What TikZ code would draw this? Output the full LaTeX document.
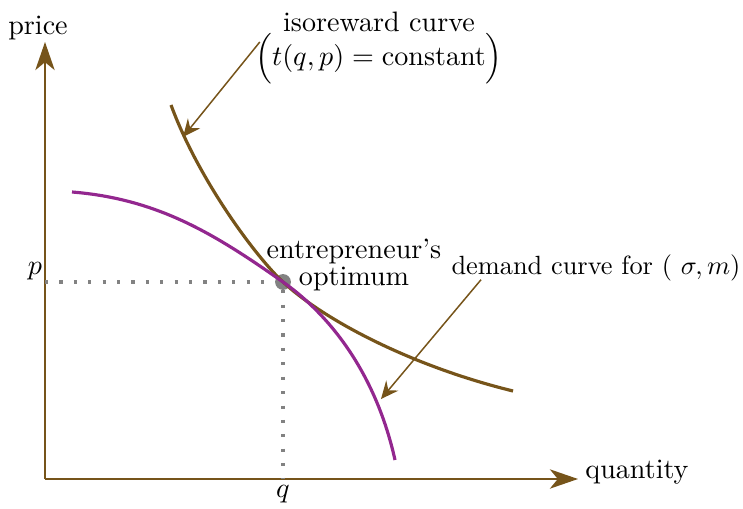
\documentclass[tikz,border=0pt]{standalone}
\usepackage{amsmath}
\usetikzlibrary{arrows.meta}
\definecolor{axisbrown}{RGB}{118,84,26}
\definecolor{demandpurple}{RGB}{147,39,143}
\definecolor{optgray}{RGB}{130,130,130}
\tikzset{
  axis/.style={axisbrown, line width=1.1pt, -{Stealth[length=16pt,width=11pt,inset=4.5pt]}},
  note/.style={axisbrown, line width=0.85pt, -{Stealth[length=10pt,width=9pt,inset=3.5pt]}},
  guide/.style={optgray, line width=1.8pt, dash pattern=on 1.8pt off 6.4pt},
  isoreward/.style={axisbrown, line width=1.8pt},
  demand/.style={demandpurple, line width=1.8pt},
  lbl/.style={font=\fontsize{10}{12}\selectfont, scale=1.6, transform shape, inner sep=0pt},
}
\begin{document}
\begin{tikzpicture}[x=0.02cm, y=-0.02cm]
    \useasboundingbox (0,0) rectangle (743,509);

    % Axes
    \coordinate (o) at (45,479);
    \coordinate (xend) at (578,479);
    \coordinate (yend) at (45,42);
    \draw[axis] (o) -- (xend);
    \draw[axis] (o) -- (yend);
    \node[lbl] (price) at (38,28) {price};
    \node[lbl] (quantity) at (637,472) {quantity};

    % Optimum and guide lines
    \node[circle, fill=optgray, inner sep=0pt, minimum size=9pt] (opt) at (283,282) {};
    \draw[guide] (o |- opt) -- (opt);
    \draw[guide] (opt) -- (opt |- o);
    \node[lbl] (plbl) at (35,271) {$p$};
    \node[lbl] (qlbl) at (283,494) {$q$};

    % Isoreward curve
    \draw[isoreward] (171,105) .. controls (199,181) and (257,258) .. (opt.center)
        .. controls (324,320) and (411,366) .. (513,391);

    % Demand curve
    \draw[demand] (72,192) .. controls (159,199) and (216,235) .. (opt.center)
        .. controls (327,313) and (375,370) .. (395,460);

    % Labels
    \node[lbl, align=center] (isolbl) at (379,48)
        {isoreward curve\\$\Bigl(t(q,p) = \text{constant}\Bigr)$};
    \node[lbl, align=center, font=\fontsize{10}{9.6}\selectfont] (optlbl) at (354,265)
        {entrepreneur's\\optimum};
    \node[lbl, scale=1.5/1.6] (demlbl) at (596,268) {demand curve for ( $\sigma, m$)};

    % Pointers
    \coordinate (isotip) at (183,137);
    \coordinate (demtip) at (381,399);
    \draw[note] ([shift={(5,-6)}]isolbl.west) -- (isotip);
    \draw[note] ([shift={(30,-2)}]demlbl.south west) -- (demtip);
\end{tikzpicture}
\end{document}
